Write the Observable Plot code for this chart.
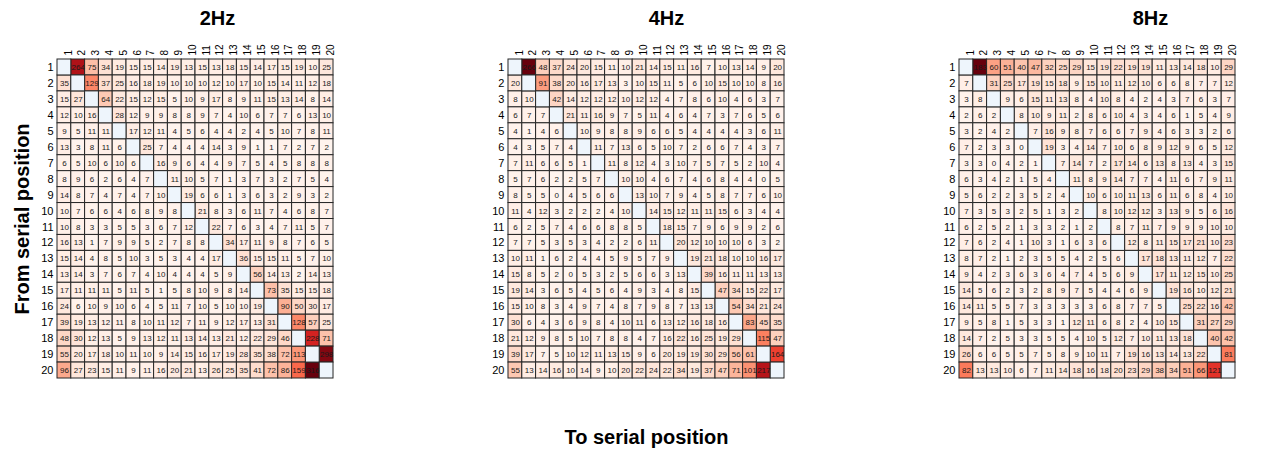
<!DOCTYPE html>
<html><head><meta charset="utf-8">
<script src="https://cdn.jsdelivr.net/npm/d3@7"></script>
<script src="https://cdn.jsdelivr.net/npm/@observablehq/plot@0.6"></script>
<style>html,body{margin:0;padding:0;background:#fff;} #chart{width:1280px;height:453px;}</style>
</head><body><div id="chart"></div>
<script>
const panels = ["2Hz", "4Hz", "8Hz"];
const positions = [1,2,3,4,5,6,7,8,9,10,11,12,13,14,15,16,17,18,19,20];
const xLabel = "To serial position";
const yLabel = "From serial position";

const hz2 = [
[null,264,75,34,19,15,15,14,19,13,15,13,18,15,14,17,15,19,10,25],
[35,null,129,37,25,16,18,19,10,10,10,12,10,17,10,15,14,11,12,18],
[15,27,null,64,22,15,12,15,5,10,9,17,8,9,11,15,13,14,8,14],
[12,10,16,null,28,12,9,9,8,8,9,7,4,10,6,7,7,6,13,10],
[9,5,11,11,null,17,12,11,4,5,6,4,4,2,4,5,10,7,8,11],
[13,3,8,11,6,null,25,7,4,4,4,14,3,9,1,1,7,2,7,2],
[6,5,10,6,10,6,null,16,9,6,4,4,9,7,5,4,5,8,8,8],
[8,9,6,2,6,4,7,null,11,10,5,7,1,3,7,3,2,7,5,4],
[14,8,7,4,7,4,7,10,null,19,6,6,1,3,6,3,2,9,3,2],
[10,7,6,6,4,6,8,9,8,null,21,8,3,6,11,7,4,6,8,7],
[10,8,3,3,5,5,3,6,7,12,null,22,7,6,3,4,7,11,5,7],
[16,13,1,7,9,9,5,2,7,8,8,null,34,17,11,9,8,7,6,5],
[15,14,4,8,5,10,3,5,3,4,4,17,null,36,15,15,11,5,7,10],
[13,14,3,7,6,7,4,10,4,4,4,5,9,null,56,14,13,2,14,13],
[17,11,11,11,5,11,5,1,5,8,10,9,8,14,null,73,35,15,15,18],
[24,6,10,9,10,6,4,5,11,7,10,5,10,10,19,null,90,50,30,17],
[39,19,13,12,11,8,10,11,12,7,11,9,12,17,13,31,null,128,57,25],
[48,30,12,13,5,9,13,12,11,13,14,13,21,12,22,29,46,null,228,71],
[55,20,17,18,10,11,10,9,14,15,16,17,19,28,35,38,72,113,null,298],
[96,27,23,15,11,9,11,16,20,21,13,26,25,35,41,72,86,159,316,null]
];

const hz4 = [
[null,266,48,37,24,20,15,11,10,21,14,15,11,16,7,10,13,14,9,20],
[20,null,91,38,20,16,17,13,3,10,15,11,5,6,10,15,10,10,8,16],
[8,10,null,42,14,12,12,12,10,12,12,4,7,8,6,10,4,6,3,7],
[6,7,7,null,21,11,16,9,7,5,11,4,6,4,7,3,7,6,5,6],
[4,1,4,6,null,10,9,8,8,9,6,6,5,4,4,4,4,3,6,11],
[4,3,5,7,4,null,11,7,13,6,5,10,7,2,6,6,7,4,3,7],
[7,11,6,6,5,1,null,11,8,12,4,3,10,7,5,7,5,2,10,4],
[5,7,6,2,2,5,7,null,10,10,4,6,7,4,6,8,4,4,0,5],
[8,5,5,0,4,5,6,6,null,13,10,7,9,4,5,8,7,7,6,10],
[11,4,12,3,2,2,2,4,10,null,14,15,12,11,11,15,6,3,4,4],
[6,2,5,7,4,6,6,8,8,5,null,18,15,7,9,6,9,9,2,6],
[7,7,5,3,5,3,4,2,2,6,11,null,20,12,10,10,10,6,3,2],
[10,11,1,6,2,4,4,5,9,5,7,9,null,19,21,18,10,10,16,17],
[15,8,5,2,0,5,3,2,5,6,6,3,13,null,39,16,11,11,13,13],
[19,14,3,6,5,4,5,6,4,9,3,4,8,15,null,47,34,15,22,17],
[15,10,8,3,4,9,7,4,8,7,9,8,7,13,13,null,54,34,21,24],
[30,6,4,3,6,9,8,4,10,11,6,13,12,16,18,16,null,83,45,35],
[21,12,9,8,5,10,7,8,8,4,7,16,22,16,25,19,29,null,115,47],
[39,17,7,5,10,12,11,13,15,9,6,20,19,19,30,29,56,61,null,164],
[55,13,14,16,10,14,9,10,20,22,24,22,34,19,37,47,71,101,217,null]
];

const hz8 = [
[null,183,60,51,40,47,32,25,29,15,19,22,19,19,11,13,14,18,10,29],
[7,null,31,25,17,19,15,18,9,15,10,11,12,10,6,6,8,7,7,12],
[3,8,null,9,6,15,11,13,8,4,10,8,4,2,4,3,7,6,3,7],
[2,6,2,null,8,10,9,11,2,8,6,10,4,3,4,6,1,5,4,9],
[3,2,4,2,null,7,16,9,8,7,6,6,7,9,4,6,3,3,2,6],
[7,2,3,3,0,null,19,3,4,14,7,10,6,8,9,12,9,6,5,12],
[3,3,0,4,2,1,null,7,14,7,2,17,14,6,13,8,13,4,3,15],
[6,3,4,2,1,5,4,null,11,8,9,14,7,7,4,11,6,7,9,11],
[5,6,2,2,3,5,2,4,null,10,6,10,11,13,6,11,6,8,4,10],
[7,3,5,3,2,5,1,3,2,null,8,10,12,12,3,13,9,5,6,16],
[6,2,5,2,1,3,3,2,1,2,null,8,7,11,7,9,9,9,10,10],
[7,6,2,4,1,10,3,1,6,3,6,null,12,8,11,15,17,21,10,23],
[8,7,2,1,2,3,5,5,4,2,5,6,null,17,18,13,11,12,7,22],
[9,4,2,3,6,3,6,4,7,4,5,6,9,null,17,11,12,15,10,25],
[14,5,6,2,3,2,8,9,7,5,4,4,6,9,null,19,16,10,12,21],
[14,11,5,5,7,3,3,3,3,3,6,8,7,7,5,null,25,22,16,42],
[9,5,8,1,5,3,3,1,12,11,6,8,2,4,10,15,null,31,27,29],
[14,7,2,5,3,3,5,5,4,10,5,12,7,10,11,13,18,null,40,42],
[26,6,6,5,5,7,5,8,9,10,11,7,19,16,13,14,13,22,null,81],
[82,13,13,10,6,7,11,14,18,16,18,20,23,29,38,34,51,66,121,null]
];

const matrices = [hz2, hz4, hz8];
const cells = [];
panels.forEach((p, i) => {
  const m = matrices[i];
  const max = d3.max(m.flat());
  m.forEach((row, r) => row.forEach((v, c) => {
    cells.push({panel: p, from: positions[r], to: positions[c], v, t: v == null ? null : v / max});
  }));
});
const valued = cells.filter(d => d.v != null);
const diag = cells.filter(d => d.v == null);
const labels = panels.flatMap(p => positions.map(k => ({panel: p, k})));
const titleShift = [22, 20, 53];

const chart = Plot.plot({
  width: 1280, height: 453,
  marginTop: 59, marginBottom: 75, marginLeft: 57, marginRight: 45,
  style: {fontFamily: "'Liberation Sans', Arial, sans-serif", background: "white", color: "#000"},
  fx: {domain: panels, paddingInner: 0.388, paddingOuter: 0, round: false, axis: null},
  x: {domain: positions, type: "band", padding: 0, round: false, axis: null},
  y: {domain: positions, type: "band", padding: 0, round: false, axis: null},
  color: {type: "linear", scheme: "reds", domain: [0, 1]},
  marks: [
    Plot.cell(valued, {fx: "panel", x: "to", y: "from", fill: d => d.t, stroke: "#262626", strokeWidth: 1, inset: 0}),
    Plot.cell(diag, {fx: "panel", x: "to", y: "from", fill: "#eef5fc", stroke: "#262626", strokeWidth: 1, inset: 0}),
    Plot.text(valued, {fx: "panel", x: "to", y: "from", text: d => String(d.v), fontSize: 8, fill: "#1a1a1a"}),
    Plot.text(labels, {fx: "panel", y: "k", text: d => String(d.k), frameAnchor: "left", textAnchor: "end", dx: -4, fontSize: 11}),
    Plot.text(labels, {fx: "panel", x: "k", text: d => String(d.k), frameAnchor: "top", rotate: -90, textAnchor: "start", dy: -4, fontSize: 10}),
    ...panels.map((p, i) => Plot.text([p], {fx: d => d, text: d => d, frameAnchor: "top", lineAnchor: "middle", dy: -41, dx: titleShift[i], fontSize: 20, fontWeight: "bold"})),
    Plot.text([yLabel], {fx: () => panels[0], text: d => d, frameAnchor: "left", textAnchor: "middle", lineAnchor: "middle", dx: -35, rotate: -90, fontSize: 20, fontWeight: "bold"}),
    Plot.text([xLabel], {fx: () => panels[1], text: d => d, frameAnchor: "bottom", textAnchor: "middle", lineAnchor: "middle", dy: 59, fontSize: 20, fontWeight: "bold"})
  ]
});
document.getElementById("chart").appendChild(chart);
</script>
</body></html>
